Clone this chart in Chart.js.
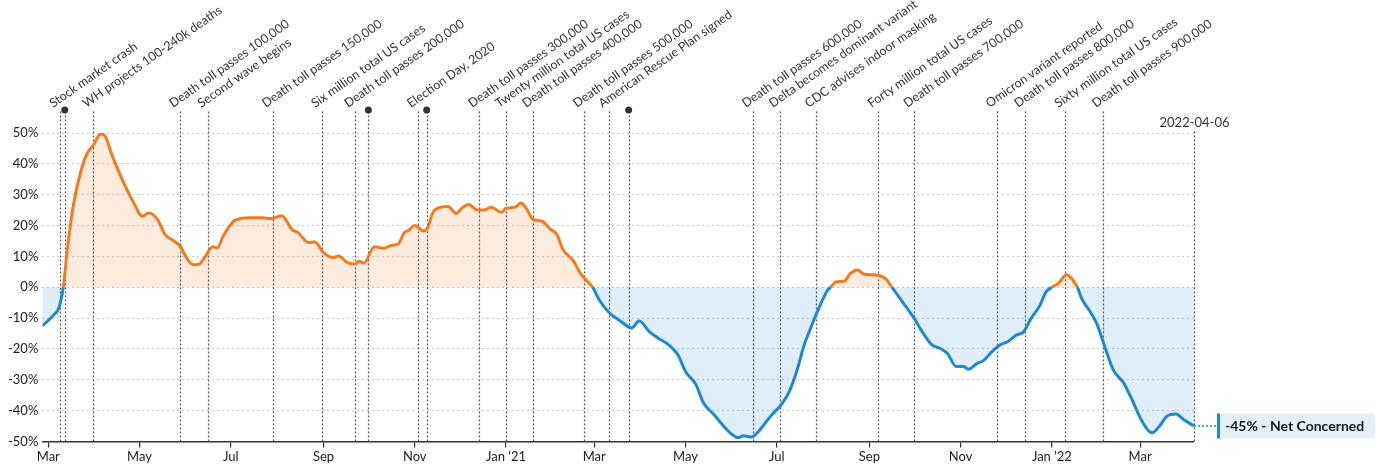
<!DOCTYPE html>
<html>
<head>
<meta charset="utf-8">
<script src="https://cdn.jsdelivr.net/npm/chart.js@4"></script>
<style>
  html, body { margin: 0; padding: 0; background: #fff; }
  #wrap { width: 1382px; height: 467px; position: relative; }
</style>
</head>
<body>
<div id="wrap"><canvas id="concern"></canvas></div>
<script>
// days counted from 2020-03-01, net concern in %
var days = [-4, 0, 4, 7, 10, 13, 17, 22, 26, 30, 35, 37, 43, 49, 56, 63, 67, 73, 78, 84, 88, 93, 97, 101, 105, 110, 113, 117, 124, 128, 136, 143, 149, 156, 163, 167, 174, 178, 184, 190, 194, 200, 205, 208, 211, 218, 224, 230, 234, 238, 241, 245, 251, 254, 257, 262, 267, 273, 276, 281, 287, 291, 296, 303, 306, 312, 316, 320, 324, 330, 336, 340, 344, 351, 356, 361, 364, 368, 375, 382, 390, 395, 402, 408, 415, 421, 426, 433, 438, 445, 452, 457, 461, 465, 470, 476, 483, 490, 495, 501, 505, 510, 515, 521, 523, 527, 532, 536, 541, 545, 548, 552, 556, 560, 564, 572, 579, 585, 591, 596, 601, 607, 612, 615, 621, 625, 631, 636, 642, 647, 652, 657, 663, 667, 671, 675, 681, 684, 688, 691, 696, 701, 706, 712, 719, 724, 730, 734, 738, 743, 748, 754, 759, 766];
var netConcern = [-12.5, -10.8, -8.8, -6.8, 0, 13.4, 27.3, 38, 43.4, 46, 49.6, 49.5, 42.3, 35.4, 28.4, 23, 24.1, 22, 17.1, 15, 13.4, 9.1, 7.3, 7.5, 10, 13.1, 12.7, 16.6, 21.4, 22.2, 22.5, 22.5, 22.2, 23.2, 18.7, 17.7, 14.5, 14.7, 11.2, 9.6, 10.1, 8, 7.5, 8.4, 7.8, 13.1, 12.6, 13.6, 14, 17.7, 18.5, 20, 18.2, 19.6, 24.1, 25.9, 26.2, 23.9, 25.4, 26.8, 25, 25, 25.9, 24.3, 25.6, 25.9, 27.3, 25.2, 22, 21.4, 18.7, 17.1, 12.3, 8.6, 4.3, 1.6, 0, -3.8, -8.3, -10.8, -13.2, -11, -14.5, -16.6, -18.8, -22, -27.3, -31.6, -37.5, -41.3, -45.3, -47.7, -48.8, -48.2, -48.6, -46.1, -41.8, -38.1, -34.3, -26.3, -19.3, -12.9, -7, -1, 0, 1.8, 1.9, 4.3, 5.6, 4.3, 4.1, 4, 3.7, 2.7, 0, -5.4, -10.2, -15, -18.8, -19.8, -21.4, -25.7, -25.7, -26.6, -24.7, -23.9, -20.9, -18.8, -17.5, -15.6, -14.5, -10.2, -5.9, -1.6, 0, 1.1, 4, 2.9, 0, -3.8, -7.5, -11.8, -18.8, -26.8, -31.1, -35.9, -42.3, -45.6, -47.2, -45, -41.8, -41.1, -42.9, -45];

var monthTicks = [0, 61, 122, 184, 245, 306, 365, 426, 487, 549, 610, 671, 730];
var monthLabels = ['Mar', 'May', 'Jul', 'Sep', 'Nov', "Jan '21", 'Mar', 'May', 'Jul', 'Sep', 'Nov', "Jan '22", 'Mar'];

var eventDays = [8, 30, 88, 107, 150, 183, 205, 247, 288, 306, 324, 358, 375, 471, 489, 513, 555, 579, 634, 653, 680, 705];
var eventLabels = ['Stock market crash', 'WH projects 100-240k deaths', 'Death toll passes 100,000', 'Second wave begins',
  'Death toll passes 150,000', 'Six million total US cases', 'Death toll passes 200,000', 'Election Day, 2020',
  'Death toll passes 300,000', 'Twenty million total US cases', 'Death toll passes 400,000', 'Death toll passes 500,000',
  'American Rescue Plan signed', 'Death toll passes 600,000', 'Delta becomes dominant variant', 'CDC advises indoor masking',
  'Forty million total US cases', 'Death toll passes 700,000', 'Omicron variant reported', 'Death toll passes 800,000',
  'Sixty million total US cases', 'Death toll passes 900,000'];
var dotDays = [11, 214, 253, 388];
var endDay = 766;
var endDate = '2022-04-06';
var seriesName = 'Net Concerned';

var ORANGE = '#f47a20';
var BLUE = '#1f88d2';
var FONT = 'Lato, "Open Sans", sans-serif';

var eventsPlugin = {
  id: 'events',
  beforeDatasetsDraw: function (chart) {
    var ctx = chart.ctx, area = chart.chartArea, x = chart.scales.x;
    var top = area.top - 23;
    ctx.save();
    ctx.strokeStyle = '#555';
    ctx.lineWidth = 1.2;
    ctx.setLineDash([2, 2]);
    var all = eventDays.concat(dotDays);
    all.forEach(function (d) {
      var px = Math.round(x.getPixelForValue(d)) + 0.5;
      ctx.beginPath();
      ctx.moveTo(px, area.bottom);
      ctx.lineTo(px, top);
      ctx.stroke();
    });
    // end date line
    var ex = Math.round(x.getPixelForValue(endDay)) + 0.5;
    ctx.beginPath();
    ctx.moveTo(ex, area.bottom);
    ctx.lineTo(ex, area.top - 2);
    ctx.stroke();
    ctx.setLineDash([]);
    ctx.fillStyle = '#333';
    dotDays.forEach(function (d) {
      ctx.beginPath();
      ctx.arc(x.getPixelForValue(d), top, 3.5, 0, Math.PI * 2);
      ctx.fill();
    });
    ctx.font = '12.5px ' + FONT;
    ctx.fillStyle = '#333';
    ctx.textAlign = 'left';
    ctx.textBaseline = 'alphabetic';
    eventDays.forEach(function (d, i) {
      var px = x.getPixelForValue(d);
      ctx.save();
      ctx.translate(px - 7, top - 2);
      ctx.rotate(-35 * Math.PI / 180);
      ctx.fillText(eventLabels[i], 0, 0);
      ctx.restore();
    });
    ctx.font = '13px ' + FONT;
    ctx.textAlign = 'center';
    ctx.fillText(endDate, ex, area.top - 6);
    ctx.restore();
  },
  afterDatasetsDraw: function (chart) {
    var ctx = chart.ctx, x = chart.scales.x, y = chart.scales.y;
    var last = netConcern[netConcern.length - 1];
    var lx = x.getPixelForValue(days[days.length - 1]);
    var ly = y.getPixelForValue(last);
    var bx = 1217;
    ctx.save();
    ctx.strokeStyle = BLUE;
    ctx.lineWidth = 1.5;
    ctx.setLineDash([2, 2]);
    ctx.beginPath();
    ctx.moveTo(lx, ly);
    ctx.lineTo(bx, ly);
    ctx.stroke();
    ctx.setLineDash([]);
    ctx.fillStyle = '#e3eff9';
    ctx.fillRect(bx, ly - 12.5, 158, 25);
    ctx.fillStyle = BLUE;
    ctx.fillRect(bx, ly - 12.5, 3, 25);
    ctx.fillStyle = '#1a1a1a';
    ctx.font = 'bold 14px ' + FONT;
    ctx.textAlign = 'left';
    ctx.textBaseline = 'middle';
    ctx.fillText(last + '% - ' + seriesName, bx + 8, ly + 1);
    ctx.restore();
  }
};

new Chart(document.getElementById('concern'), {
  type: 'line',
  data: {
    datasets: [{
      label: seriesName,
      data: days.map(function (d, i) { return { x: d, y: netConcern[i] }; }),
      borderWidth: 3,
      pointRadius: 0,
      cubicInterpolationMode: 'monotone',
      borderColor: BLUE,
      segment: {
        borderColor: function (c) {
          return (c.p0.parsed.y + c.p1.parsed.y) > 0 ? ORANGE : BLUE;
        }
      },
      fill: {
        target: { value: 0 },
        above: 'rgba(244, 122, 32, 0.15)',
        below: 'rgba(31, 136, 210, 0.14)'
      }
    }]
  },
  options: {
    responsive: true,
    maintainAspectRatio: false,
    animation: false,
    layout: { padding: { top: 133, right: 188, bottom: 0, left: 4 } },
    plugins: {
      legend: { display: false },
      tooltip: { enabled: false },
      filler: { drawTime: 'beforeDatasetsDraw' }
    },
    scales: {
      x: {
        type: 'linear',
        min: -4,
        max: endDay,
        afterBuildTicks: function (axis) {
          axis.ticks = monthTicks.map(function (v) { return { value: v }; });
        },
        ticks: {
          autoSkip: false,
          maxRotation: 0,
          padding: 2,
          color: '#222',
          font: { family: FONT, size: 13 },
          callback: function (v, i) { return monthLabels[i]; }
        },
        grid: { drawOnChartArea: false, drawTicks: true, tickLength: 6, color: '#333', lineWidth: 1.2 },
        border: { display: true, color: '#333', width: 1.5 }
      },
      y: {
        min: -50,
        max: 50,
        ticks: {
          stepSize: 10,
          padding: 4,
          color: '#222',
          font: { family: FONT, size: 13 },
          callback: function (v) { return v + '%'; }
        },
        grid: { color: '#c8c8c8', lineWidth: 1, drawTicks: false },
        border: { display: false, dash: [2, 3] }
      }
    }
  },
  plugins: [eventsPlugin]
});
</script>
</body>
</html>
